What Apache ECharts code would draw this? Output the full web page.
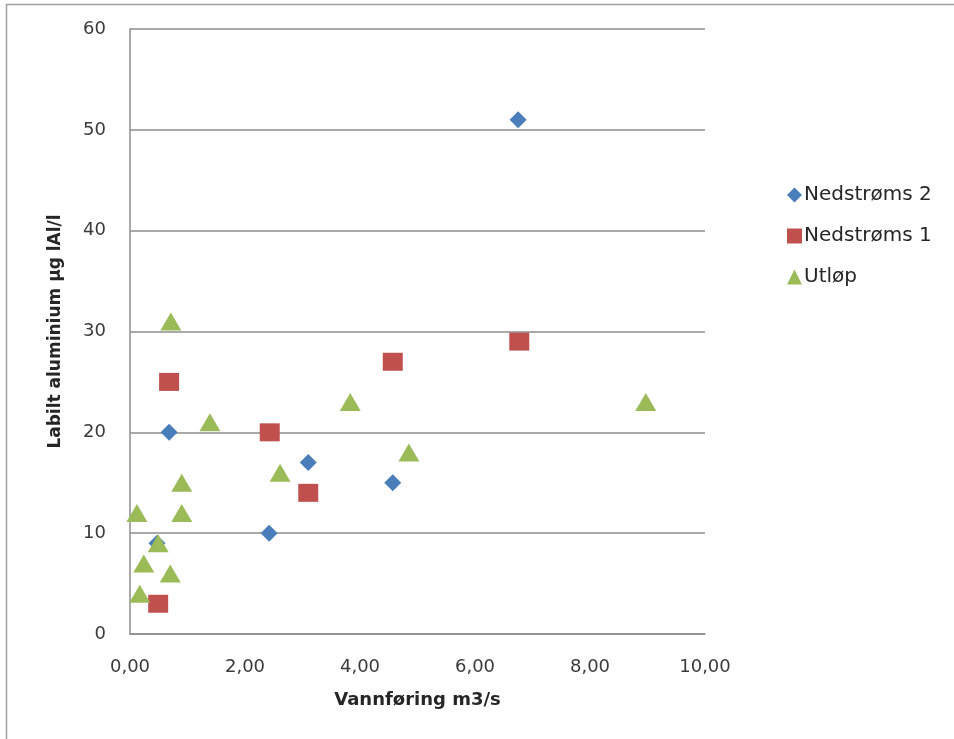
<!DOCTYPE html>
<html>
<head>
<meta charset="utf-8">
<script src="https://cdn.jsdelivr.net/npm/echarts@6/dist/echarts.min.js"></script>
<style>
  html, body { margin: 0; padding: 0; background: #fff; }
  #chart { width: 954px; height: 739px; }
</style>
</head>
<body>
<div id="chart"></div>
<script>
// values: [vannføring m3/s, labilt Al µg/l]
const nedstroms2 = [
  [6.75, 51], [0.68, 20], [0.47, 9], [2.42, 10], [3.10, 17], [4.57, 15]
];
const nedstroms1 = [
  [0.68, 25], [0.49, 3], [2.43, 20], [3.10, 14], [4.57, 27], [6.77, 29]
];
const utlop = [
  [0.71, 31], [0.12, 12], [0.90, 15], [0.90, 12], [0.24, 7], [0.49, 9],
  [0.70, 6], [0.17, 4], [1.39, 21], [2.61, 16], [3.83, 23], [4.85, 18], [8.97, 23]
];
const seriesNames = ['Nedstrøms 2', 'Nedstrøms 1', 'Utløp'];

const chartDom = document.getElementById('chart');
const myChart = echarts.init(chartDom);

const font = 'DejaVu Sans';
const gridColor = '#8c8c8c';

const option = {
  animation: false,
  // outer chart frame (only left and top edges are visible in the picture)
  graphic: [
    {
      type: 'polyline',
      shape: { points: [[6.5, 739], [6.5, 4.5], [954, 4.5]] },
      style: { fill: null, stroke: '#a0a0a0', lineWidth: 1.5 },
      silent: true
    }
  ],
  grid: { left: 130, right: 249, top: 29, bottom: 105 },
  legend: {
    orient: 'vertical',
    left: 782,
    top: 180,
    itemGap: 21,
    itemWidth: 15,
    itemHeight: 15,
    textStyle: { fontFamily: font, fontSize: 20, color: '#262626', padding: [0, 0, 0, -3] },
    data: [
      { name: seriesNames[0], icon: 'diamond' },
      { name: seriesNames[1], icon: 'rect' },
      { name: seriesNames[2], icon: 'triangle' }
    ]
  },
  xAxis: {
    type: 'value',
    min: 0,
    max: 10,
    interval: 2,
    name: 'Vannføring m3/s',
    nameLocation: 'middle',
    nameGap: 57,
    nameTextStyle: { fontFamily: font, fontSize: 18, fontWeight: 'bold', color: '#262626' },
    axisLine: { show: true, lineStyle: { color: gridColor, width: 1.5 } },
    axisTick: { show: false },
    splitLine: { show: false },
    axisLabel: {
      margin: 24,
      fontFamily: font, fontSize: 18, color: '#3a3a3a',
      formatter: v => v.toFixed(2).replace('.', ',')
    }
  },
  yAxis: {
    type: 'value',
    min: 0,
    max: 60,
    interval: 10,
    name: 'Labilt aluminium µg lAl/l',
    nameLocation: 'middle',
    nameGap: 66,
    nameTextStyle: { fontFamily: font, fontSize: 17, fontWeight: 'bold', color: '#262626' },
    axisLine: { show: true, lineStyle: { color: gridColor, width: 1.5 } },
    axisTick: { show: false },
    splitLine: { show: true, lineStyle: { color: gridColor, width: 1.5 } },
    axisLabel: { margin: 24, fontFamily: font, fontSize: 18, color: '#3a3a3a' }
  },
  series: [
    {
      name: seriesNames[0],
      type: 'scatter',
      symbol: 'diamond',
      symbolSize: [17, 17],
      itemStyle: { color: '#4a7ebb', opacity: 1 },
      data: nedstroms2
    },
    {
      name: seriesNames[1],
      type: 'scatter',
      symbol: 'rect',
      symbolSize: [20, 18],
      itemStyle: { color: '#c0504d', opacity: 1 },
      data: nedstroms1
    },
    {
      name: seriesNames[2],
      type: 'scatter',
      symbol: 'triangle',
      symbolSize: [21, 18],
      itemStyle: { color: '#9bbb59', opacity: 1 },
      data: utlop
    }
  ]
};

option && myChart.setOption(option);
</script>
</body>
</html>
